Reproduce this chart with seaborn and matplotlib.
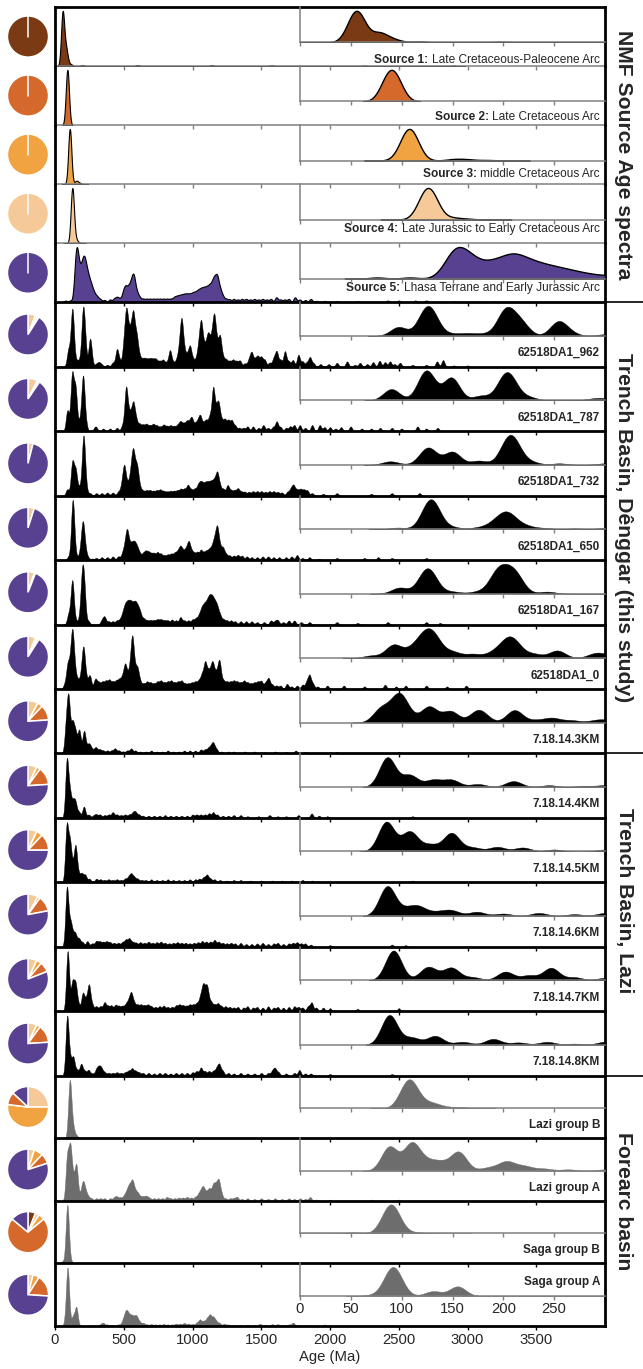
import numpy as np
import pandas as pd
import matplotlib.pyplot as plt
from matplotlib.lines import Line2D
import seaborn as sns

sns.set_theme(style="white")
plt.rcParams['font.family'] = ['Liberation Sans', 'DejaVu Sans']

# ---------------- data (age in Ma, relative weight) ----------------
names = ["Late Cretaceous-Paleocene Arc", "Late Cretaceous Arc", "middle Cretaceous Arc",
         "Late Jurassic to Early Cretaceous Arc", "Lhasa Terrane and Early Jurassic Arc",
         "62518DA1_962", "62518DA1_787", "62518DA1_732", "62518DA1_650", "62518DA1_167",
         "62518DA1_0", "7.18.14.3KM", "7.18.14.4KM", "7.18.14.5KM", "7.18.14.6KM",
         "7.18.14.7KM", "7.18.14.8KM", "Lazi group B", "Lazi group A", "Saga group B",
         "Saga group A"]

src1 = [(52, .45), (58, .6), (78, .28), (92, .08), (117, .03), (198, .02), (600, .02),
        (1140, .02), (1575, .015), (2250, .01), (2900, .01)]
src2 = [(86, .5), (94, .5)]
src3 = [(104, .5), (111, .5), (152, .04), (165, .03), (185, .015)]
src4 = [(122, .5), (130, .5), (150, .05), (165, .02)]
src5 = [(76, .03), (108, .03), (140, .12), (150, .45), (160, .45), (170, .3), (180, .22),
        (190, .25), (200, .3), (210, .36), (220, .3), (230, .24), (240, .2), (250, .17),
        (260, .14), (270, .11), (280, .08), (290, .06), (300, .04), (310, .06), (330, .05),
        (360, .04), (400, .05), (430, .06), (450, .08), (470, .06), (495, .15), (512, .22),
        (530, .18), (545, .19), (560, .28), (575, .35), (595, .15), (615, .08), (640, .06),
        (665, .06), (690, .06), (715, .06), (740, .06), (765, .06), (790, .06), (815, .06),
        (840, .06), (865, .08), (885, .09), (905, .1), (925, .11), (945, .12), (965, .12),
        (985, .12), (1005, .14), (1025, .15), (1045, .18), (1065, .2), (1085, .21),
        (1105, .22), (1125, .25), (1145, .28), (1162, .32), (1180, .38), (1200, .2),
        (1220, .1), (1245, .06), (1270, .05), (1300, .06), (1330, .05), (1360, .06),
        (1390, .06), (1420, .05), (1450, .06), (1480, .05), (1510, .06), (1540, .05),
        (1570, .06), (1610, .09), (1640, .05), (1670, .05), (1700, .06), (1745, .09),
        (1780, .05), (1820, .04), (1860, .06), (1900, .025), (1960, .025), (2050, .02),
        (2200, .02), (2420, .03), (2500, .03), (2620, .03), (2700, .03), (2900, .012),
        (3200, .012)]
s962 = [(97, .24), (122, .46), (130, .46), (150, .05), (165, .06), (180, .05), (200, .45),
        (207, .35), (218, .3), (254, .37), (265, .08), (300, .04), (320, .06), (340, .03),
        (380, .03), (420, .06), (450, .25), (470, .08), (500, .3), (518, .7), (535, .35),
        (552, .4), (570, .68), (592, .42), (612, .15), (635, .1), (655, .1), (675, .09),
        (695, .1), (715, .09), (735, .1), (760, .08), (785, .1), (810, .06), (836, .24),
        (860, .06), (885, .1), (905, .25), (921, .6), (940, .2), (962, .15), (982, .28),
        (1005, .1), (1030, .12), (1048, .3), (1064, .55), (1085, .25), (1105, .3), (1120, .32),
        (1140, .35), (1158, .65), (1178, .3), (1200, .42), (1222, .12), (1245, .1), (1270, .08),
        (1295, .1), (1320, .08), (1345, .09), (1380, .05), (1410, .1), (1430, .2), (1455, .1),
        (1475, .14), (1500, .14), (1525, .1), (1560, .06), (1590, .12), (1612, .22),
        (1640, .1), (1672, .23), (1700, .08), (1730, .1), (1770, .18), (1800, .08), (1830, .06),
        (1854, .14), (1880, .05), (1930, .04), (1990, .04), (2050, .06), (2124, .08),
        (2180, .03), (2218, .06), (2270, .04), (2313, .07), (2360, .09), (2400, .07),
        (2436, .08), (2470, .04), (2509, .06), (2600, .03), (2700, .03), (2778, .08),
        (2822, .1), (2900, .02), (3000, .02)]
s787 = [(90, .3), (122, .5), (128, .35), (149, .6), (178, .12), (200, .45), (208, .4),
        (225, .08), (289, .04), (300, .04), (350, .04), (400, .04), (450, .05), (490, .08),
        (516, .6), (535, .2), (552, .18), (570, .36), (590, .15), (615, .1), (640, .09),
        (665, .1), (690, .08), (715, .1), (740, .08), (765, .06), (790, .09), (815, .07),
        (840, .08), (865, .07), (890, .08), (912, .13), (935, .1), (958, .13), (978, .1),
        (995, .17), (1020, .1), (1040, .12), (1057, .19), (1080, .1), (1100, .14), (1125, .2),
        (1150, .6), (1172, .25), (1190, .35), (1212, .14), (1235, .16), (1260, .15),
        (1285, .15), (1310, .08), (1340, .05), (1370, .05), (1400, .07), (1440, .07),
        (1480, .05), (1515, .09), (1550, .05), (1585, .06), (1612, .14), (1640, .06),
        (1680, .05), (1710, .07), (1740, .09), (1780, .09), (1820, .05), (1870, .09),
        (1925, .09), (1960, .06), (2000, .06), (2040, .04), (2080, .06), (2150, .07),
        (2230, .04), (2300, .04), (2364, .05), (2450, .05), (2520, .04), (2636, .07),
        (2700, .04), (2782, .05)]
s732 = [(89, .1), (124, .35), (130, .19), (150, .38), (176, .12), (203, .5), (211, .5),
        (227, .08), (255, .04), (300, .04), (340, .04), (380, .05), (420, .05), (460, .06),
        (485, .15), (503, .42), (522, .14), (540, .15), (555, .3), (569, .52), (585, .25),
        (599, .33), (618, .1), (640, .07), (665, .08), (690, .08), (715, .07), (740, .08),
        (765, .09), (790, .07), (815, .06), (840, .07), (865, .07), (890, .08), (915, .1),
        (940, .1), (966, .16), (990, .09), (1015, .1), (1040, .15), (1060, .18), (1080, .15),
        (1100, .17), (1120, .17), (1140, .18), (1160, .2), (1180, .32), (1200, .13),
        (1225, .1), (1255, .16), (1280, .08), (1305, .08), (1330, .11), (1355, .06),
        (1380, .06), (1410, .06), (1440, .07), (1470, .07), (1500, .07), (1530, .06),
        (1560, .07), (1590, .07), (1620, .06), (1650, .05), (1690, .06), (1715, .1),
        (1735, .15), (1760, .09), (1785, .1), (1810, .09), (1835, .08), (1870, .04),
        (1950, .03), (2050, .04), (2300, .03), (2450, .04), (2650, .04)]
s650 = [(96, .04), (125, .4), (132, .45), (150, .05), (175, .04), (190, .12), (200, .26),
        (208, .22), (222, .08), (240, .03), (270, .02), (300, .03), (340, .04), (380, .04),
        (420, .05), (460, .05), (490, .08), (508, .15), (524, .33), (542, .15), (560, .17),
        (578, .18), (596, .14), (615, .08), (640, .08), (660, .1), (680, .09), (700, .07),
        (720, .08), (745, .1), (770, .08), (795, .06), (820, .07), (845, .08), (870, .09),
        (892, .1), (912, .16), (932, .1), (952, .12), (972, .22), (992, .1), (1012, .08),
        (1035, .1), (1061, .13), (1085, .09), (1105, .1), (1125, .12), (1145, .15),
        (1162, .22), (1180, .38), (1200, .15), (1222, .15), (1245, .07), (1270, .06),
        (1300, .06), (1330, .07), (1360, .06), (1395, .05), (1430, .04), (1470, .04),
        (1510, .05), (1550, .05), (1590, .04), (1630, .04), (1680, .04), (1720, .05),
        (1760, .07), (1800, .03), (1850, .04), (1920, .02), (2050, .03), (2250, .03),
        (2350, .04), (2450, .03), (2700, .03)]
s167 = [(98, .12), (122, .28), (129, .28), (150, .04), (175, .04), (193, .35), (203, .3),
        (213, .3), (243, .04), (340, .05), (360, .09), (390, .04), (420, .04), (450, .05),
        (475, .06), (495, .12), (512, .18), (530, .2), (548, .2), (566, .18), (584, .2),
        (602, .16), (620, .12), (645, .07), (670, .05), (695, .05), (720, .05), (745, .06),
        (770, .06), (795, .05), (820, .05), (850, .06), (880, .05), (912, .09), (940, .05),
        (970, .05), (1000, .06), (1025, .07), (1048, .1), (1068, .17), (1088, .2), (1108, .22),
        (1126, .25), (1144, .24), (1162, .2), (1180, .17), (1200, .1), (1225, .06), (1250, .05),
        (1280, .05), (1310, .04), (1350, .04), (1390, .04), (1430, .04), (1470, .03),
        (1520, .03), (1570, .05), (1600, .04), (1620, .05), (1660, .03), (1700, .05),
        (1740, .05), (1790, .03), (1850, .03), (2050, .03), (2200, .02), (2420, .03),
        (2700, .03), (2800, .02)]
s0 = [(70, .05), (92, .26), (110, .15), (122, .35), (132, .35), (150, .12), (170, .08),
      (190, .1), (203, .27), (212, .22), (230, .08), (253, .15), (290, .08), (300, .05),
      (320, .07), (345, .08), (370, .09), (395, .1), (420, .08), (445, .09), (468, .1),
      (490, .12), (510, .25), (530, .12), (548, .2), (563, .5), (582, .16), (600, .2),
      (620, .07), (645, .06), (670, .08), (695, .07), (720, .06), (745, .08), (770, .09),
      (795, .07), (820, .08), (845, .09), (870, .07), (895, .08), (920, .09), (945, .06),
      (970, .06), (995, .07), (1020, .08), (1045, .09), (1068, .15), (1091, .28), (1112, .16),
      (1130, .15), (1147, .25), (1168, .15), (1188, .18), (1200, .2), (1225, .09), (1250, .08),
      (1275, .08), (1300, .09), (1325, .08), (1350, .07), (1375, .09), (1400, .07),
      (1425, .06), (1450, .07), (1475, .08), (1500, .09), (1530, .07), (1553, .12),
      (1580, .05), (1610, .04), (1640, .04), (1687, .06), (1720, .03), (1760, .04),
      (1800, .05), (1830, .08), (1851, .15), (1875, .06), (1910, .03), (1980, .04),
      (2100, .04), (2250, .03), (2400, .05), (2480, .03), (2550, .04), (2700, .04),
      (2850, .03), (2990, .04)]
s3km = [(80, .25), (97, .45), (106, .1), (127, .28), (148, .2), (174, .16), (180, .08),
        (211, .22), (232, .04), (248, .08), (267, .04), (290, .03), (300, .04), (325, .04),
        (350, .03), (380, .03), (410, .03), (436, .05), (465, .03), (495, .02), (525, .03),
        (554, .05), (585, .03), (620, .02), (660, .02), (700, .03), (740, .02), (780, .02),
        (820, .03), (860, .02), (900, .02), (940, .03), (980, .03), (1020, .03), (1060, .04),
        (1090, .04), (1115, .05), (1135, .06), (1152, .09), (1175, .04), (1210, .02),
        (1260, .02), (1300, .02), (1380, .02), (1450, .02), (1520, .015), (1600, .02),
        (1680, .015), (1750, .03), (1820, .015), (1900, .01), (2050, .015), (2500, .015)]
s4km = [(86, .5), (108, .2), (131, .12), (149, .12), (175, .05), (210, .1), (245, .03),
        (280, .02), (300, .03), (327, .03), (360, .025), (390, .03), (420, .05), (450, .03),
        (480, .025), (510, .03), (540, .03), (565, .04), (584, .05), (610, .03), (640, .02),
        (680, .02), (720, .02), (760, .02), (800, .025), (840, .02), (880, .02), (920, .02),
        (960, .02), (1000, .03), (1030, .03), (1060, .03), (1090, .03), (1120, .04),
        (1150, .05), (1180, .03), (1220, .02), (1260, .02), (1300, .025), (1350, .025),
        (1400, .015), (1480, .015), (1560, .025), (1620, .015), (1680, .015), (1770, .025),
        (1866, .04), (1920, .02), (1980, .015), (2600, .015)]
s5km = [(85, .45), (108, .3), (128, .1), (149, .28), (170, .06), (194, .07), (219, .06),
        (250, .03), (300, .03), (330, .025), (360, .02), (390, .025), (420, .02), (450, .025),
        (480, .02), (510, .03), (535, .04), (554, .06), (575, .04), (600, .03), (630, .02),
        (660, .02), (700, .025), (740, .02), (780, .02), (820, .025), (860, .02), (900, .02),
        (940, .02), (980, .025), (1020, .025), (1050, .03), (1080, .04), (1105, .06),
        (1130, .03), (1160, .025), (1200, .02), (1250, .015), (1300, .02), (1350, .02),
        (1420, .015), (1500, .015), (1580, .015), (1650, .015), (1720, .015), (1800, .02),
        (1870, .015), (2600, .015)]
s6km = [(86, .5), (105, .1), (117, .14), (135, .06), (149, .09), (174, .07), (200, .04),
        (235, .05), (270, .03), (300, .05), (325, .045), (350, .04), (375, .045), (400, .04),
        (430, .035), (460, .035), (490, .04), (515, .06), (540, .07), (565, .04), (590, .035),
        (620, .04), (650, .035), (680, .045), (710, .035), (740, .04), (770, .045), (800, .035),
        (830, .03), (860, .035), (890, .04), (920, .035), (950, .035), (980, .03), (1010, .035),
        (1040, .04), (1070, .05), (1100, .045), (1130, .045), (1160, .06), (1190, .045),
        (1220, .035), (1250, .03), (1280, .035), (1310, .03), (1350, .035), (1390, .025),
        (1430, .025), (1470, .03), (1510, .035), (1550, .025), (1590, .03), (1620, .035),
        (1660, .025), (1700, .03), (1730, .035), (1760, .04), (1790, .03), (1820, .03),
        (1860, .02), (2000, .015), (2450, .02), (2550, .015)]
s7km = [(92, .48), (125, .18), (132, .05), (149, .2), (170, .05), (202, .14), (225, .08),
        (247, .2), (270, .05), (300, .04), (330, .04), (360, .07), (385, .04), (410, .045),
        (440, .05), (465, .04), (490, .04), (515, .05), (535, .07), (554, .13), (575, .06),
        (600, .05), (625, .05), (650, .045), (675, .05), (700, .04), (730, .035), (760, .04),
        (790, .045), (820, .035), (850, .035), (880, .045), (905, .05), (930, .045), (955, .04),
        (980, .05), (1005, .05), (1030, .06), (1055, .1), (1076, .18), (1095, .12), (1110, .14),
        (1135, .07), (1160, .05), (1185, .06), (1210, .04), (1240, .04), (1270, .035),
        (1300, .03), (1330, .035), (1370, .03), (1400, .04), (1440, .03), (1470, .035),
        (1510, .03), (1550, .04), (1590, .03), (1620, .035), (1660, .03), (1700, .035),
        (1740, .04), (1770, .035), (1800, .03), (1840, .04), (1866, .07), (1900, .03),
        (1950, .03), (2000, .025), (2200, .02), (2500, .025)]
s8km = [(88, .5), (110, .12), (133, .15), (160, .05), (190, .1), (215, .04), (243, .05),
        (270, .02), (300, .05), (318, .06), (336, .06), (360, .03), (390, .025), (420, .025),
        (450, .03), (480, .025), (510, .03), (535, .04), (560, .06), (585, .04), (610, .03),
        (640, .025), (680, .025), (720, .02), (760, .025), (800, .025), (840, .02), (880, .025),
        (920, .025), (960, .025), (1000, .03), (1030, .04), (1061, .07), (1090, .04),
        (1120, .04), (1150, .04), (1175, .06), (1195, .09), (1220, .04), (1260, .025),
        (1300, .02), (1350, .025), (1400, .02), (1450, .02), (1500, .025), (1550, .025),
        (1580, .04), (1600, .06), (1625, .03), (1680, .02), (1740, .025), (1777, .05),
        (1820, .02), (1860, .02), (2000, .015), (2450, .015)]
lazi_b = [(104, .4), (111, .4), (128, .12), (140, .04), (158, .03)]
lazi_a = [(88, .32), (110, .36), (125, .1), (138, .1), (156, .25), (185, .04), (200, .05),
          (205, .08), (221, .06), (240, .03), (264, .02), (300, .02), (330, .02), (360, .02),
          (400, .02), (430, .025), (450, .03), (475, .025), (500, .03), (518, .05), (535, .08),
          (550, .07), (565, .12), (585, .06), (605, .05), (630, .03), (650, .025), (668, .03),
          (690, .02), (720, .02), (750, .02), (780, .02), (813, .03), (840, .02), (870, .02),
          (900, .025), (930, .025), (960, .03), (990, .025), (1020, .03), (1045, .05),
          (1065, .07), (1082, .08), (1105, .06), (1125, .08), (1150, .11), (1170, .1),
          (1190, .14), (1210, .05), (1240, .02), (1273, .02), (1300, .02), (1324, .03),
          (1360, .015), (1400, .02), (1450, .015), (1500, .02), (1550, .015), (1600, .02),
          (1650, .015), (1700, .02), (1740, .015), (1782, .02), (1820, .015), (1855, .03),
          (1900, .01), (2000, .01), (2300, .01), (2500, .01)]
saga_b = [(52, .03), (86, .45), (93, .45), (115, .03)]
saga_a = [(70, .02), (88, .4), (95, .4), (131, .12), (155, .24), (330, .02), (350, .04),
          (380, .02), (420, .015), (460, .02), (490, .05), (508, .12), (524, .14), (542, .1),
          (560, .1), (578, .08), (594, .1), (615, .05), (642, .04), (670, .02), (700, .025),
          (730, .02), (760, .02), (790, .025), (820, .02), (850, .02), (880, .03), (910, .03),
          (940, .04), (970, .03), (1000, .025), (1030, .04), (1054, .08), (1080, .06),
          (1105, .09), (1127, .13), (1150, .1), (1170, .06), (1195, .04), (1230, .03),
          (1260, .02), (1300, .015), (1350, .015), (1400, .015), (1450, .015), (1490, .03),
          (1530, .015), (1580, .025), (1620, .025), (1660, .015), (1700, .02), (1731, .045),
          (1770, .015), (1850, .01), (1960, .02), (2450, .015)]

samples = [src1, src2, src3, src4, src5, s962, s787, s732, s650, s167, s0, s3km, s4km,
           s5km, s6km, s7km, s8km, lazi_b, lazi_a, saga_b, saga_a]

# NMF source proportions (pie charts), clockwise from 12 o'clock: S1, S4, S3, S2, S5
pie_s1 = [1, 0, 0, 0, 0, 0, .005, 0, 0, 0, 0, 0, 0, 0, 0, 0, 0, 0, 0, .06, 0]
pie_s4 = [0, 0, 0, 1, 0, .06, .07, .04, .05, .05, .06, .08, .07, .07, .08, .07, .07, .25, .05, .03, .04]
pie_s3 = [0, 0, 1, 0, 0, .015, .01, 0, 0, .005, .015, .04, .03, .05, .02, .04, .03, .52, .07, .05, .05]
pie_s2 = [0, 1, 0, 0, 0, .015, .01, 0, 0, .005, .015, .12, .14, .13, .12, .08, .14, .10, .08, .72, .17]
pie_s5 = [0, 0, 0, 0, 1, .91, .905, .96, .95, .94, .91, .76, .76, .75, .78, .81, .76, .13, .80, .14, .74]

groups = [("NMF Source Age spectra", 0, 4), ("Trench Basin, Dênggar (this study)", 5, 11),
          ("Trench Basin, Lazi", 12, 16), ("Forearc basin", 17, 20)]
main_ticks = [0, 500, 1000, 1500, 2000, 2500, 3000, 3500]
inset_ticks = [0, 50, 100, 150, 200, 250]

# ---------------- style ----------------
src_cols = ['#7a3a13', '#d4692b', '#f0a340', '#f5ca98', '#574190']
gray_fill = '#6d6d6d'
BW_MAIN = 11.0  # kernel bandwidth, Ma
BW_INSET = 8.0

W, H = 643, 1369
fig = plt.figure(figsize=(W / 100, H / 100), dpi=100)
ratios = [59] * 5 + [64.4] * 12 + [62.5] * 4
gs = fig.add_gridspec(21, 1, left=55 / W, right=605 / W, top=1 - 7 / H,
                      bottom=1 - 1326 / H, hspace=0, height_ratios=ratios)


def draw_kde(ax, df, bw, clip, grid, **kw):
    factor = bw / np.sqrt(np.cov(df['age'], aweights=df['w']))
    sns.kdeplot(data=df, x='age', weights='w', bw_method=factor, clip=clip,
                gridsize=grid, fill=True, alpha=1, ax=ax, **kw)
    top = max(p.vertices[:, 1].max() for p in ax.collections[-1].get_paths())
    return top


axes = []
for i, smp in enumerate(samples):
    ax = fig.add_subplot(gs[i])
    axes.append(ax)
    df = pd.DataFrame(smp, columns=['age', 'w'])

    if i < 5:
        fc, ec, lw = src_cols[i], 'black', 0.8
    elif i < 17:
        fc, ec, lw = 'black', 'black', 0.3
    else:
        fc, ec, lw = gray_fill, gray_fill, 0.3

    top = draw_kde(ax, df, BW_MAIN, (0, 4000), 4000, color=fc, edgecolor=ec, linewidth=lw)
    ax.set_xlim(0, 4000)
    ax.set_ylim(0, top * 1.07)
    ax.set_ylabel('')
    ax.set_xlabel('')
    ax.set_yticks([])
    ax.set_xticks(main_ticks)
    ax.set_facecolor('none')

    for s in ['left', 'right']:
        ax.spines[s].set_visible(True)
        ax.spines[s].set_color('black')
        ax.spines[s].set_linewidth(2)
    ax.spines['top'].set_visible(i == 0)
    ax.spines['top'].set_color('black')
    ax.spines['top'].set_linewidth(2)
    ax.spines['bottom'].set_visible(True)
    if i < 4:
        ax.spines['bottom'].set_color('#7f7f7f')
        ax.spines['bottom'].set_linewidth(1.1)
        tcol = '#7f7f7f'
    else:
        ax.spines['bottom'].set_color('black')
        ax.spines['bottom'].set_linewidth(2)
        tcol = 'black'
    ax.tick_params(axis='x', bottom=True, direction='out', length=3, width=1,
                   color=tcol, labelbottom=(i == 20), labelsize=10.7, pad=2)

    # inset with the 0-300 Ma window
    hfrac = 0.6 if i < 5 else 0.52
    ins = ax.inset_axes([(300 - 55) / 550, 1 - hfrac, (605 - 300) / 550, hfrac])
    itop = draw_kde(ins, df, BW_INSET, (0, 300), 700, color=fc, edgecolor=ec,
                    linewidth=1.0 if i < 5 else 0.3)
    ins.set_xlim(0, 300)
    ins.set_ylim(0, itop * 1.12)
    ins.set_facecolor('none')
    ins.set_ylabel('')
    ins.set_xlabel('')
    ins.set_yticks([])
    ins.set_xticks(inset_ticks)
    for s in ['top', 'right']:
        ins.spines[s].set_visible(False)
    for s in ['left', 'bottom']:
        ins.spines[s].set_visible(True)
        ins.spines[s].set_color('#808080')
        ins.spines[s].set_linewidth(1.1)
    ins.tick_params(axis='x', bottom=True, direction='out', length=3, width=1,
                    color='#808080', labelbottom=(i == 20), labelsize=10.7, pad=1)

    # sample label
    if i < 5:
        ly = [0.1, 0.13, 0.17, 0.24, 0.25][i]
        t = ax.text(0.991, ly, names[i], transform=ax.transAxes, ha='right', va='center',
                    fontsize=8.6)
        ax.annotate(f"Source {i + 1}:", xy=(0, 0.5), xycoords=t, xytext=(-2.5, 0),
                    textcoords='offset points', ha='right', va='center',
                    fontsize=8.6, fontweight='bold')
    else:
        ly = 0.7 if i == 20 else 0.21
        ax.text(0.991, ly, names[i], transform=ax.transAxes, ha='right', va='center',
                fontsize=8.5, fontweight='bold')

axes[-1].set_xlabel('Age (Ma)', fontsize=10.7, labelpad=2)

# pie charts on the left
for i, ax in enumerate(axes):
    bb = ax.get_position()
    pax = fig.add_axes([6 / W, bb.y0, 44 / W, bb.height])
    vals = [pie_s1[i], pie_s4[i], pie_s3[i], pie_s2[i], pie_s5[i]]
    cols = [src_cols[0], src_cols[3], src_cols[2], src_cols[1], src_cols[4]]
    keep = [(v, c) for v, c in zip(vals, cols) if v > 0]
    wedges, _ = pax.pie([v for v, _ in keep], colors=[c for _, c in keep], startangle=90,
                        counterclock=False, radius=1.0,
                        wedgeprops=dict(edgecolor='white', linewidth=1.1))
    if len(keep) == 1:
        # a single full wedge has no radial edge; show the seam at the start angle
        w0 = wedges[0]
        pax.plot([w0.center[0], w0.center[0]], [w0.center[1], w0.r], color='white', lw=1.1)
    pax.set_xlim(-1.07, 1.07)
    pax.set_ylim(-1.07, 1.07)
    pax.set_aspect('equal')
    pax.axis('off')

# group labels and separators on the right
for label, a, b in groups:
    y_top = axes[a].get_position().y1
    y_bot = axes[b].get_position().y0
    yc = (y_top + y_bot) / 2
    if a == 12:
        yc += 14 / H
    fig.text(624 / W, yc, label, rotation=270, ha='center', va='center',
             fontsize=15.2, fontweight='bold')
    if b < 20:
        fig.add_artist(Line2D([605 / W, 1], [y_bot, y_bot], color='black', lw=1.2,
                              transform=fig.transFigure))

fig.savefig('out.png', dpi=100)
